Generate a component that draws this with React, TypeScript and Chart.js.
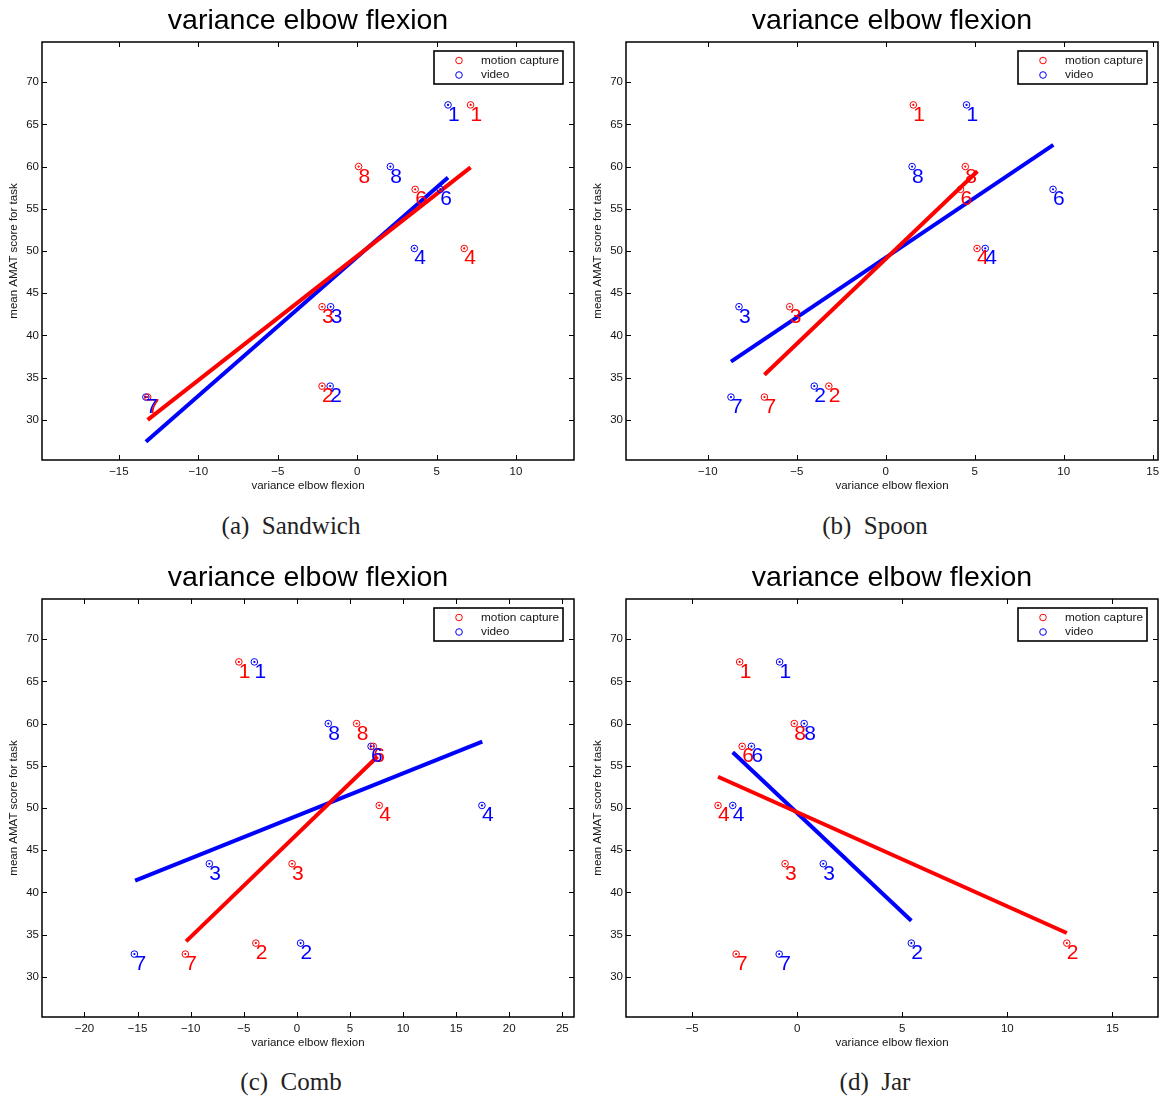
import React, { useEffect, useRef } from 'react';
import { Chart, registerables } from 'chart.js';

Chart.register(...registerables);

const SANS = '"Liberation Sans", Arial, Helvetica, sans-serif';
const SERIF = '"Liberation Serif", "Times New Roman", serif';
const RED = '#ff0000';
const BLUE = '#0000ff';
const INK = '#141414';

// shared values
const pointIds = ['1', '2', '3', '4', '6', '7', '8'];
const amatScores = [67.3, 34.0, 43.4, 50.3, 57.3, 32.7, 60.0];
const yTicks = [30, 35, 40, 45, 50, 55, 60, 65, 70];
const yRange = [25.25, 74.75];
const seriesNames = ['motion capture', 'video'];
const plotTitle = 'variance elbow flexion';
const xAxisLabel = 'variance elbow flexion';
const yAxisLabel = 'mean AMAT score for task';

// (a) Sandwich
const sandwichMocapX = [7.14, -2.21, -2.21, 6.74, 3.65, -13.19, 0.09];
const sandwichVideoX = [5.72, -1.7, -1.67, 3.6, 5.23, -13.3, 2.09];
const sandwichMocapFitX = [-13.19, 7.14];
const sandwichMocapFitY = [30.0, 59.9];
const sandwichVideoFitX = [-13.3, 5.72];
const sandwichVideoFitY = [27.4, 58.7];
const sandwichXTicks = [-15, -10, -5, 0, 5, 10];
const sandwichXRange = [-19.84, 13.65];

// (b) Spoon
const spoonMocapX = [1.55, -3.2, -5.4, 5.13, 4.2, -6.82, 4.47];
const spoonVideoX = [4.54, -4.02, -8.25, 5.59, 9.4, -8.7, 1.48];
const spoonMocapFitX = [-6.82, 5.15];
const spoonMocapFitY = [35.35, 59.45];
const spoonVideoFitX = [-8.7, 9.42];
const spoonVideoFitY = [36.9, 62.56];
const spoonXTicks = [-10, -5, 0, 5, 10, 15];
const spoonXRange = [-14.6, 15.3];

// (c) Comb
const combMocapX = [-5.46, -3.86, -0.45, 7.76, 7.2, -10.5, 5.63];
const combVideoX = [-4.0, 0.35, -8.24, 17.43, 6.99, -15.3, 2.96];
const combMocapFitX = [-10.43, 7.6];
const combMocapFitY = [34.2, 56.1];
const combVideoFitX = [-15.23, 17.46];
const combVideoFitY = [41.4, 57.87];
const combXTicks = [-20, -15, -10, -5, 0, 5, 10, 15, 20, 25];
const combXRange = [-24.0, 26.1];

// (d) Jar
const jarMocapX = [-2.74, 12.83, -0.58, -3.77, -2.62, -2.91, -0.14];
const jarVideoX = [-0.84, 5.43, 1.24, -3.07, -2.18, -0.86, 0.33];
const jarMocapFitX = [-3.77, 12.83];
const jarMocapFitY = [53.7, 35.2];
const jarVideoFitX = [-3.07, 5.43];
const jarVideoFitY = [56.6, 36.65];
const jarXTicks = [-5, 0, 5, 10, 15];
const jarXRange = [-8.15, 17.17];

const captions = ['(a)  Sandwich', '(b)  Spoon', '(c)  Comb', '(d)  Jar'];

type PanelDef = {
  left: number;
  top: number;
  width: number;
  rightPad: number;
  caption: string;
  captionX: number;
  captionY: number;
  xRange: number[];
  xTicks: number[];
  mocapX: number[];
  videoX: number[];
  mocapFitX: number[];
  mocapFitY: number[];
  videoFitX: number[];
  videoFitY: number[];
};

const CANVAS_H = 500;

const panels: PanelDef[] = [
  {
    left: 0, top: 0, width: 580, rightPad: 6, caption: captions[0], captionX: 291, captionY: 526,
    xRange: sandwichXRange, xTicks: sandwichXTicks, mocapX: sandwichMocapX, videoX: sandwichVideoX,
    mocapFitX: sandwichMocapFitX, mocapFitY: sandwichMocapFitY, videoFitX: sandwichVideoFitX, videoFitY: sandwichVideoFitY,
  },
  {
    left: 584, top: 0, width: 576, rightPad: 2, caption: captions[1], captionX: 875, captionY: 526,
    xRange: spoonXRange, xTicks: spoonXTicks, mocapX: spoonMocapX, videoX: spoonVideoX,
    mocapFitX: spoonMocapFitX, mocapFitY: spoonMocapFitY, videoFitX: spoonVideoFitX, videoFitY: spoonVideoFitY,
  },
  {
    left: 0, top: 557, width: 580, rightPad: 6, caption: captions[2], captionX: 291, captionY: 1082,
    xRange: combXRange, xTicks: combXTicks, mocapX: combMocapX, videoX: combVideoX,
    mocapFitX: combMocapFitX, mocapFitY: combMocapFitY, videoFitX: combVideoFitX, videoFitY: combVideoFitY,
  },
  {
    left: 584, top: 557, width: 576, rightPad: 2, caption: captions[3], captionX: 875, captionY: 1082,
    xRange: jarXRange, xTicks: jarXTicks, mocapX: jarMocapX, videoX: jarVideoX,
    mocapFitX: jarMocapFitX, mocapFitY: jarMocapFitY, videoFitX: jarVideoFitX, videoFitY: jarVideoFitY,
  },
];

const fmt = (v: number) => (v < 0 ? '\u2212' + Math.abs(v) : String(v));

function Panel({ def }: { def: PanelDef }) {
  const ref = useRef<HTMLCanvasElement | null>(null);

  useEffect(() => {
    if (!ref.current) return;
    const toPts = (xs: number[], ys: number[]) => xs.map((x, i) => ({ x, y: ys[i] }));

    const decor = {
      id: 'decor',
      afterDatasetsDraw(chart: any) {
        const { ctx, scales } = chart;
        ctx.save();
        ctx.font = `21px ${SANS}`;
        ctx.textAlign = 'left';
        ctx.textBaseline = 'alphabetic';
        const series = [
          { xs: def.mocapX, color: RED },
          { xs: def.videoX, color: BLUE },
        ];
        series.forEach((s) => {
          ctx.fillStyle = s.color;
          s.xs.forEach((xv, i) => {
            const px = scales.x.getPixelForValue(xv);
            const py = scales.y.getPixelForValue(amatScores[i]);
            ctx.fillText(pointIds[i], px, py + 16);
          });
        });
        ctx.restore();
      },
      afterDraw(chart: any) {
        const { ctx, chartArea: a, scales } = chart;
        ctx.save();
        // title
        ctx.fillStyle = '#000';
        ctx.font = `28.5px ${SANS}`;
        ctx.textAlign = 'center';
        ctx.textBaseline = 'alphabetic';
        ctx.fillText(plotTitle, (a.left + a.right) / 2, 29);
        // inward ticks on all four sides
        ctx.strokeStyle = '#000';
        ctx.lineWidth = 1;
        ctx.beginPath();
        scales.x.ticks.forEach((t: any) => {
          const p = Math.round(scales.x.getPixelForValue(t.value)) + 0.5;
          ctx.moveTo(p, a.bottom);
          ctx.lineTo(p, a.bottom - 5);
          ctx.moveTo(p, a.top);
          ctx.lineTo(p, a.top + 5);
        });
        scales.y.ticks.forEach((t: any) => {
          const p = Math.round(scales.y.getPixelForValue(t.value)) + 0.5;
          ctx.moveTo(a.left, p);
          ctx.lineTo(a.left + 5, p);
          ctx.moveTo(a.right, p);
          ctx.lineTo(a.right - 5, p);
        });
        ctx.stroke();
        // axes box
        ctx.lineWidth = 1.5;
        ctx.strokeRect(a.left, a.top, a.right - a.left, a.bottom - a.top);
        // legend
        const lw = 129;
        const lh = 33;
        const lx = a.right - 11 - lw;
        const ly = a.top + 9;
        ctx.fillStyle = '#fff';
        ctx.fillRect(lx, ly, lw, lh);
        ctx.strokeStyle = '#000';
        ctx.lineWidth = 1.6;
        ctx.strokeRect(lx, ly, lw, lh);
        ctx.font = `11.8px ${SANS}`;
        ctx.textAlign = 'left';
        ctx.textBaseline = 'middle';
        const cols = [RED, BLUE];
        seriesNames.forEach((name, i) => {
          const cy = ly + 9.5 + i * 14.5;
          ctx.beginPath();
          ctx.arc(lx + 25, cy, 3.3, 0, Math.PI * 2);
          ctx.strokeStyle = cols[i];
          ctx.lineWidth = 1;
          ctx.stroke();
          ctx.fillStyle = INK;
          ctx.fillText(name, lx + 47, cy);
        });
        ctx.restore();
      },
    };

    const circle = (xs: number[], color: string, order: number) => ({
      label: 'c',
      data: toPts(xs, amatScores),
      showLine: false,
      pointStyle: 'circle',
      pointRadius: 3.3,
      pointBorderWidth: 1,
      borderColor: color,
      pointBorderColor: color,
      pointBackgroundColor: 'rgba(0,0,0,0)',
      backgroundColor: 'rgba(0,0,0,0)',
      order,
    });
    const dot = (xs: number[], color: string, order: number) => ({
      label: 'd',
      data: toPts(xs, amatScores),
      showLine: false,
      pointStyle: 'circle',
      pointRadius: 1.1,
      pointBorderWidth: 0,
      pointBackgroundColor: color,
      backgroundColor: color,
      borderColor: color,
      order,
    });
    const fit = (xs: number[], ys: number[], color: string, order: number) => ({
      label: 'f',
      data: toPts(xs, ys),
      showLine: true,
      borderColor: color,
      borderWidth: 4,
      borderCapStyle: 'butt',
      pointRadius: 0,
      fill: false,
      order,
    });

    const chart = new Chart(ref.current, {
      type: 'scatter',
      data: {
        datasets: [
          dot(def.mocapX, RED, 0),
          dot(def.videoX, BLUE, 1),
          circle(def.mocapX, RED, 2),
          circle(def.videoX, BLUE, 3),
          fit(def.mocapFitX, def.mocapFitY, RED, 4),
          fit(def.videoFitX, def.videoFitY, BLUE, 5),
        ] as any,
      },
      options: {
        animation: false,
        responsive: false,
        devicePixelRatio: 1,
        events: [],
        layout: { autoPadding: false, padding: { top: 42, right: def.rightPad, bottom: 0, left: 0 } },
        plugins: {
          legend: { display: false },
          tooltip: { enabled: false },
          title: { display: false },
        },
        scales: {
          x: {
            type: 'linear',
            position: 'bottom',
            min: def.xRange[0],
            max: def.xRange[1],
            afterBuildTicks: (s: any) => {
              s.ticks = def.xTicks.map((v) => ({ value: v }));
            },
            afterFit: (s: any) => {
              s.height = 40;
              s.paddingLeft = 0;
              s.paddingRight = 0;
              s.paddingTop = 0;
              s.paddingBottom = 0;
            },
            grid: { display: false, drawTicks: false },
            border: { display: false },
            ticks: {
              font: { family: SANS, size: 11.5 },
              color: INK,
              padding: 5.3,
              maxRotation: 0,
              autoSkip: false,
              callback: (v: any) => fmt(Number(v)),
            },
            title: {
              display: true,
              text: xAxisLabel,
              font: { family: SANS, size: 11.5 },
              color: INK,
              padding: { top: 0, bottom: 7.1 },
            },
          },
          y: {
            type: 'linear',
            position: 'left',
            min: yRange[0],
            max: yRange[1],
            afterBuildTicks: (s: any) => {
              s.ticks = yTicks.map((v) => ({ value: v }));
            },
            afterFit: (s: any) => {
              s.width = 42;
              s.paddingLeft = 0;
              s.paddingRight = 0;
              s.paddingTop = 0;
              s.paddingBottom = 0;
            },
            grid: { display: false, drawTicks: false },
            border: { display: false },
            ticks: {
              font: { family: SANS, size: 11.5 },
              color: INK,
              padding: 3,
              autoSkip: false,
              callback: (v: any) => fmt(Number(v)),
            },
            title: {
              display: true,
              text: yAxisLabel,
              font: { family: SANS, size: 11.5 },
              color: INK,
              padding: { top: 6.6, bottom: 0 },
            },
          },
        },
      } as any,
      plugins: [decor],
    });
    return () => chart.destroy();
  }, [def]);

  return (
    <>
      <canvas
        ref={ref}
        width={def.width}
        height={CANVAS_H}
        style={{ position: 'absolute', left: def.left, top: def.top, width: def.width, height: CANVAS_H, display: 'block' }}
      />
      <div
        style={{
          position: 'absolute',
          left: def.captionX - 150,
          top: def.captionY - 15,
          width: 300,
          height: 30,
          lineHeight: '30px',
          textAlign: 'center',
          fontFamily: SERIF,
          fontSize: 25,
          whiteSpace: 'pre',
          color: '#222',
        }}
      >
        {def.caption}
      </div>
    </>
  );
}

export default function App() {
  return (
    <div style={{ position: 'absolute', left: 0, top: 0, width: 1160, height: 1099, background: '#fff', overflow: 'hidden' }}>
      {panels.map((p, i) => (
        <Panel key={i} def={p} />
      ))}
    </div>
  );
}
